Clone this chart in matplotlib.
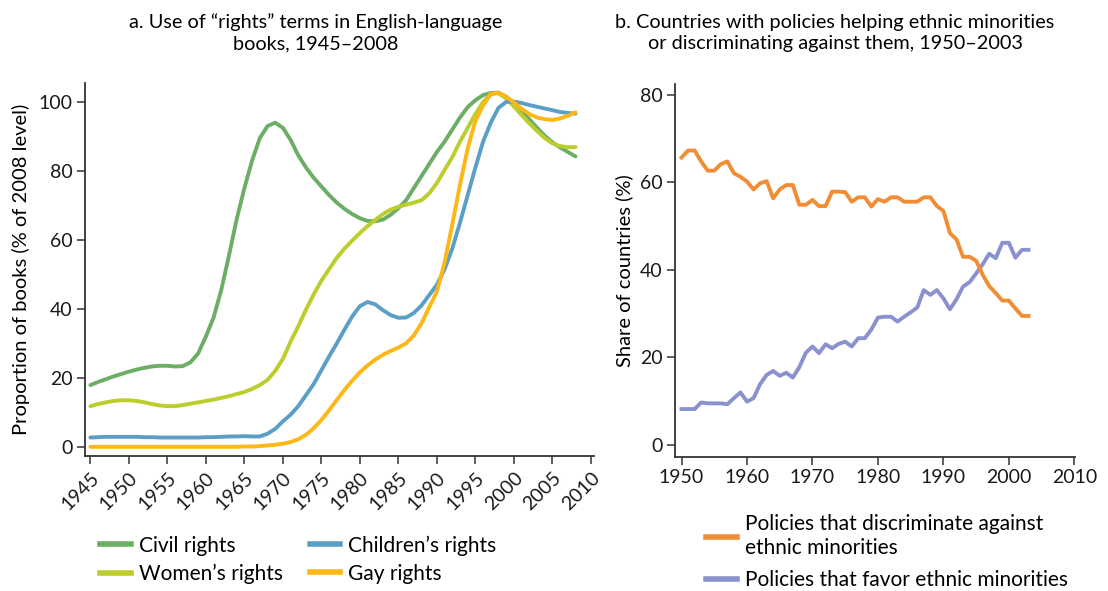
import matplotlib
matplotlib.use('Agg')
import matplotlib.pyplot as plt
from matplotlib.lines import Line2D

plt.rcParams['font.family'] = ['Lato', 'DejaVu Sans']
plt.rcParams['font.size'] = 13

# Panel a: "rights" terms in books, % of 2008 level, one value per year
years_a = list(range(1945, 2009))
civil = [17.9, 18.8, 19.6, 20.4, 21.1, 21.8, 22.4, 22.9, 23.3, 23.5,
         23.5, 23.3, 23.4, 24.5, 27.1, 32.0, 37.5, 45.5, 55.5, 66.0,
         75.0, 83.0, 89.5, 93.0, 94.0, 92.5, 89.0, 84.5, 81.0, 78.0,
         75.5, 73.0, 70.8, 69.0, 67.5, 66.3, 65.5, 65.4, 65.9, 67.3,
         69.2, 71.5, 75.0, 78.5, 82.0, 85.5, 88.5, 92.0, 95.5, 98.5,
         100.5, 102.0, 102.6, 102.7, 101.5, 99.5, 97.5, 95.0, 92.5, 90.2,
         88.3, 86.8, 85.5, 84.2]
women = [11.8, 12.4, 12.9, 13.3, 13.5, 13.5, 13.3, 12.9, 12.4, 12.0,
         11.8, 11.8, 12.1, 12.5, 12.9, 13.3, 13.7, 14.2, 14.7, 15.3,
         15.9, 16.8, 17.9, 19.4, 22.0, 25.5, 30.5, 35.0, 39.8, 44.2,
         48.2, 51.5, 54.8, 57.5, 59.8, 62.0, 64.0, 65.8, 67.5, 68.8,
         69.6, 70.2, 70.8, 71.5, 73.5, 76.5, 80.3, 84.0, 88.5, 92.5,
         96.5, 100.0, 102.3, 102.5, 101.0, 98.7, 96.2, 93.8, 91.6, 89.5,
         88.0, 87.2, 86.9, 86.9]
children = [2.7, 2.8, 2.9, 2.9, 2.9, 2.9, 2.9, 2.8, 2.8, 2.7,
            2.7, 2.7, 2.7, 2.7, 2.7, 2.8, 2.8, 2.9, 3.0, 3.0,
            3.1, 3.0, 3.0, 3.8, 5.2, 7.4, 9.3, 11.8, 15.0, 18.2,
            22.2, 26.2, 30.0, 34.0, 37.8, 40.8, 42.0, 41.3, 39.6, 38.2,
            37.4, 37.5, 38.8, 41.0, 44.0, 47.0, 51.5, 57.5, 65.0, 73.0,
            81.0, 88.5, 94.0, 98.3, 100.0, 100.1, 99.7, 99.1, 98.6, 98.1,
            97.6, 97.1, 96.8, 96.6]
gay = [0.0, 0.0, 0.0, 0.0, 0.0, 0.0, 0.0, 0.0, 0.0, 0.0,
       0.0, 0.0, 0.0, 0.0, 0.0, 0.0, 0.0, 0.0, 0.0, 0.0,
       0.1, 0.1, 0.2, 0.4, 0.6, 0.9, 1.4, 2.2, 3.5, 5.4,
       7.8, 10.6, 13.6, 16.5, 19.2, 21.6, 23.6, 25.3, 26.7, 27.8,
       28.8, 30.0, 32.3, 35.8, 40.5, 45.0, 53.5, 64.5, 76.0, 86.5,
       94.5, 99.0, 102.3, 102.7, 101.5, 99.9, 98.0, 96.5, 95.5, 95.0,
       94.8, 95.2, 96.0, 97.0]

# Panel b: share of countries with each policy type (%)
years_b = list(range(1950, 2004))
discriminate = [65.7, 67.3, 67.3, 64.8, 62.7, 62.7, 64.2, 64.8, 62.1, 61.3,
                60.2, 58.4, 59.8, 60.3, 56.4, 58.4, 59.4, 59.4, 54.9, 54.9,
                56.0, 54.6, 54.6, 57.9, 57.9, 57.8, 55.6, 56.6, 56.6, 54.5,
                56.2, 55.6, 56.6, 56.6, 55.6, 55.6, 55.6, 56.6, 56.6, 54.6,
                53.5, 48.4, 47.0, 43.0, 43.0, 42.1, 38.9, 36.3, 34.7, 33.0,
                33.0, 31.2, 29.5, 29.5]
favor = [8.2, 8.2, 8.2, 9.7, 9.5, 9.5, 9.5, 9.3, 10.7, 12.0,
         9.9, 10.7, 13.9, 16.0, 16.9, 15.8, 16.5, 15.4, 17.8, 21.1,
         22.5, 21.0, 23.0, 22.1, 23.1, 23.6, 22.5, 24.4, 24.4, 26.4,
         29.1, 29.3, 29.3, 28.2, 29.3, 30.3, 31.4, 35.4, 34.3, 35.4,
         33.5, 31.0, 33.3, 36.2, 37.2, 39.2, 41.3, 43.7, 42.7, 46.2,
         46.2, 42.8, 44.6, 44.6]

a_labels = ['Civil rights', 'Women\u2019s rights', 'Children\u2019s rights', 'Gay rights']
a_colors = ['#6cae66', '#bccd2c', '#5b9fc6', '#fdb817']
b_labels = ['Policies that discriminate against\nethnic minorities',
            'Policies that favor ethnic minorities']
b_colors = ['#f18d35', '#8b91cf']

spine_col = '#333333'
lw = 2.8
tick_fs = 14
label_fs = 14.5
title_fs = 14.3
legend_fs = 15

fig = plt.figure(figsize=(11.08, 5.91), dpi=100)
ax1 = fig.add_axes([0.0767, 0.2276, 0.4594, 0.632])
ax2 = fig.add_axes([0.6092, 0.2272, 0.361, 0.6306])

for ax in (ax1, ax2):
    for side in ('top', 'right'):
        ax.spines[side].set_visible(False)
    for side in ('left', 'bottom'):
        ax.spines[side].set_color(spine_col)
        ax.spines[side].set_linewidth(1.3)
    ax.tick_params(direction='out', length=6, width=1.1, color=spine_col,
                   labelcolor='#1a1a1a', labelsize=tick_fs, pad=3)

# panel a
series_a = [civil, women, children, gay]
for vals, lab, col in zip(series_a, a_labels, a_colors):
    ax1.plot(years_a, vals, color=col, lw=lw, label=lab,
             solid_capstyle='round', solid_joinstyle='round')
ax1.set_xlim(1944.3, 2010.4)
ax1.set_ylim(-2.8, 105.5)
ax1.set_xticks(range(1945, 2011, 5))
ax1.set_yticks(range(0, 101, 20))
plt.setp(ax1.get_xticklabels(), rotation=45, ha='right', rotation_mode='anchor')
ax1.set_ylabel('Proportion of books (% of 2008 level)', fontsize=label_fs, labelpad=6)

fig.text(316 / 1108, 1 - 33 / 591, 'a. Use of \u201crights\u201d terms in English-language\nbooks, 1945\u20132008',
         ha='center', va='center', fontsize=title_fs, linespacing=1.35)

leg_a = [Line2D([], [], color=c, lw=4) for c in a_colors]
fig.legend(leg_a, a_labels, loc='upper left', bbox_to_anchor=(92 / 1108, 1 - 527 / 591),
           ncol=2, frameon=False, fontsize=legend_fs, handlelength=1.45, handletextpad=0.4,
           columnspacing=1.3, labelspacing=0.38, borderaxespad=0)

# panel b
ax2.plot(years_b, favor, color=b_colors[1], lw=lw, solid_joinstyle='round')
ax2.plot(years_b, discriminate, color=b_colors[0], lw=lw, solid_joinstyle='round')
ax2.set_xlim(1949, 2010.1)
ax2.set_ylim(-2.7, 82.5)
ax2.set_xticks(range(1950, 2011, 10))
ax2.set_yticks(range(0, 81, 20))
ax2.set_ylabel('Share of countries (%)', fontsize=label_fs, labelpad=5)

fig.text(835 / 1108, 1 - 33 / 591, 'b. Countries with policies helping ethnic minorities\nor discriminating against them, 1950\u20132003',
         ha='center', va='center', fontsize=title_fs, linespacing=1.35)

leg_b = [Line2D([], [], color=c, lw=4) for c in b_colors]
fig.legend(leg_b, b_labels, loc='upper left', bbox_to_anchor=(698 / 1108, 1 - 506 / 591),
           ncol=1, frameon=False, fontsize=legend_fs, handlelength=1.45, handletextpad=0.4,
           labelspacing=0.6, borderaxespad=0)

fig.savefig('out.png', dpi=100)
